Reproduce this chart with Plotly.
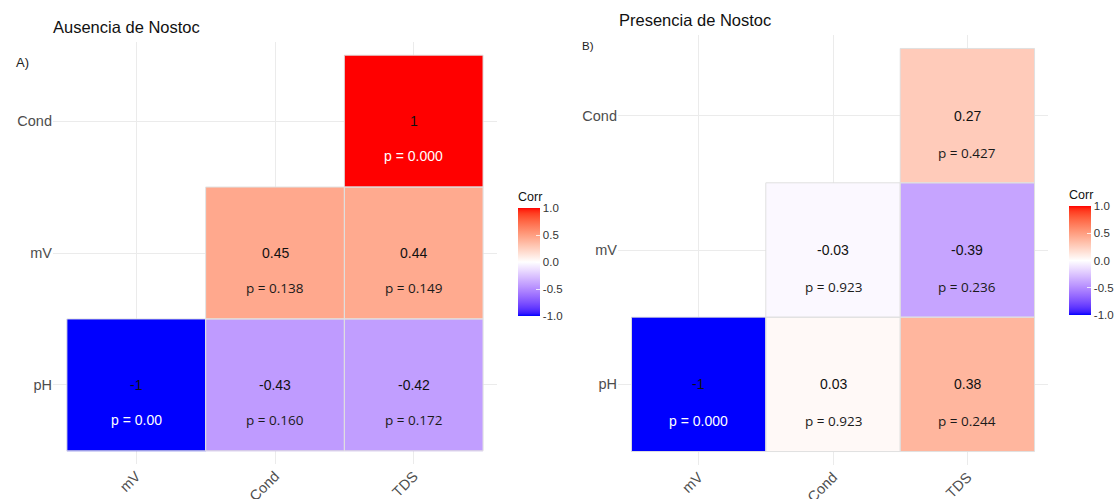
"""Two lower-triangle correlation heatmaps: without / with Nostoc."""
import numpy as np
import plotly.graph_objects as go

# Variables (x columns, y rows from bottom to top).
x_vars = ["mV", "Cond", "TDS"]
y_vars = ["pH", "mV", "Cond"]

# Ausencia de Nostoc: correlation and p-value labels (rows pH, mV, Cond).
corr_aus = [
    [-1.00, -0.43, -0.42],
    [None, 0.45, 0.44],
    [None, None, 1.00],
]
r_text_aus = [
    ["-1", "-0.43", "-0.42"],
    [None, "0.45", "0.44"],
    [None, None, "1"],
]
p_text_aus = [
    ["p = 0.00", "p = 0.160", "p = 0.172"],
    [None, "p = 0.138", "p = 0.149"],
    [None, None, "p = 0.000"],
]

# Presencia de Nostoc.
corr_pre = [
    [-1.00, 0.03, 0.38],
    [None, -0.03, -0.39],
    [None, None, 0.27],
]
r_text_pre = [
    ["-1", "0.03", "0.38"],
    [None, "-0.03", "-0.39"],
    [None, None, "0.27"],
]
p_text_pre = [
    ["p = 0.000", "p = 0.923", "p = 0.244"],
    [None, "p = 0.923", "p = 0.236"],
    [None, None, "p = 0.427"],
]

tick_vals = [-1, -0.5, 0, 0.5, 1]
tick_text = ["-1.0", "-0.5", "0.0", "0.5", "1.0"]

W, H = 1120, 499
SANS = "Liberation Sans, Arial, sans-serif"


# --- blue/white/red diverging scale interpolated in CIELAB (like gradient2) ---
_M = np.array([[0.4124, 0.3576, 0.1805],
               [0.2126, 0.7152, 0.0722],
               [0.0193, 0.1192, 0.9505]])
_WHITE = np.array([0.95047, 1.0, 1.08883])


def _to_lab(rgb):
    c = np.asarray(rgb, float) / 255.0
    lin = np.where(c <= 0.04045, c / 12.92, ((c + 0.055) / 1.055) ** 2.4)
    t = (_M @ lin) / _WHITE
    d = 6 / 29
    f = np.where(t > d ** 3, np.cbrt(t), t / (3 * d * d) + 4 / 29)
    return np.array([116 * f[1] - 16, 500 * (f[0] - f[1]), 200 * (f[1] - f[2])])


def _from_lab(lab):
    L, a, b = lab
    fy = (L + 16) / 116
    f = np.array([fy + a / 500, fy, fy - b / 200])
    d = 6 / 29
    t = np.where(f > d, f ** 3, 3 * d * d * (f - 4 / 29)) * _WHITE
    lin = np.clip(np.linalg.solve(_M, t), 0, 1)
    c = np.where(lin <= 0.0031308, 12.92 * lin, 1.055 * lin ** (1 / 2.4) - 0.055)
    r, g, bb = np.clip(np.round(c * 255), 0, 255).astype(int)
    return f"rgb({r},{g},{bb})"


_lab_lo, _lab_mid, _lab_hi = _to_lab((0, 0, 255)), _to_lab((255, 255, 255)), _to_lab((255, 0, 0))
colorscale = []
for v in np.linspace(-1, 1, 41):
    end = _lab_lo if v < 0 else _lab_hi
    colorscale.append([(v + 1) / 2, _from_lab(_lab_mid + abs(v) * (end - _lab_mid))])


def px(xp):
    return xp / W


def py(yp):
    return 1 - yp / H


# bar top/bottom in pixels; the title sits above the bar inside the colorbar length
panels = [
    dict(corr=corr_aus, rt=r_text_aus, pt=p_text_aus, title="Ausencia de Nostoc", tag="A)",
         xdom=[px(53), px(497)], ydom=[py(464), py(42)], cb_x=px(518), cb_bar=(209, 316),
         title_xy=(53, 27), tag_xy=(16, 62), tag_size=13, pshift=-35),
    dict(corr=corr_pre, rt=r_text_pre, pt=p_text_pre, title="Presencia de Nostoc", tag="B)",
         xdom=[px(618), px(1048)], ydom=[py(465), py(35)], cb_x=px(1069), cb_bar=(207, 315),
         title_xy=(619, 20), tag_xy=(582, 46), tag_size=11.5, pshift=-37),
]
CB_TITLE = 20  # px reserved above the bar for "Corr"

fig = go.Figure()
annotations = []
shapes = []

for k, pnl in enumerate(panels):
    sx = "" if k == 0 else str(k + 1)
    xa, ya = "x" + sx, "y" + sx
    top, bot = pnl["cb_bar"]
    fig.add_heatmap(
        x=x_vars, y=y_vars, z=pnl["corr"], zmin=-1, zmax=1,
        colorscale=colorscale, xaxis=xa, yaxis=ya, hoverongaps=False,
        colorbar=dict(
            x=pnl["cb_x"], xanchor="left", xpad=0, ypad=0,
            y=py(bot), yanchor="bottom",
            len=(bot - top) + CB_TITLE, lenmode="pixels",
            thickness=22, thicknessmode="pixels",
            outlinewidth=0, tickvals=tick_vals, ticktext=tick_text,
            ticks="inside", ticklen=4, tickcolor="rgba(255,255,255,0.8)",
            tickfont=dict(family=SANS, size=11.5, color="#333333"),
            title=dict(text="Corr", side="top",
                       font=dict(family=SANS, size=12.5, color="#111111")),
        ),
    )
    axis_common = dict(
        type="category", range=[-0.6, 2.6], showgrid=True, gridcolor="#EBEBEB",
        gridwidth=1, zeroline=False, showline=False, ticks="", automargin=False,
        tickfont=dict(family=SANS, size=14.5, color="#4D4D4D"),
    )
    fig.update_layout(**{
        "xaxis" + sx: dict(axis_common, domain=pnl["xdom"], anchor=ya,
                           categoryorder="array", categoryarray=x_vars, tickangle=-45),
        "yaxis" + sx: dict(axis_common, domain=pnl["ydom"], anchor=xa,
                           categoryorder="array", categoryarray=y_vars),
    })

    for j, yv in enumerate(y_vars):
        for i, xv in enumerate(x_vars):
            r = pnl["corr"][j][i]
            if r is None:
                continue
            shapes.append(dict(type="rect", xref=xa, yref=ya,
                               x0=i - 0.5, x1=i + 0.5, y0=j - 0.5, y1=j + 0.5,
                               line=dict(color="#E0E0E0", width=1), layer="above"))
            annotations.append(dict(
                x=xv, y=yv, xref=xa, yref=ya, text=pnl["rt"][j][i], showarrow=False,
                font=dict(family=SANS, size=14, color="#111111"),
            ))
            strong = abs(r) >= 0.9
            annotations.append(dict(
                x=xv, y=yv, xref=xa, yref=ya, text=pnl["pt"][j][i], showarrow=False,
                yshift=pnl["pshift"],
                font=dict(family=SANS if strong else "Open Sans",
                          size=14 if strong else 13.5,
                          color="white" if strong else "#1A1A1A"),
            ))

    tx, ty = pnl["title_xy"]
    annotations.append(dict(
        x=px(tx), y=py(ty), xref="paper", yref="paper", xanchor="left", yanchor="middle",
        text=pnl["title"], showarrow=False, xshift=-2,
        font=dict(family=SANS, size=16.5, color="#111111"),
    ))
    gx, gy = pnl["tag_xy"]
    annotations.append(dict(
        x=px(gx), y=py(gy), xref="paper", yref="paper", xanchor="left", yanchor="middle",
        text=pnl["tag"], showarrow=False, xshift=-2,
        font=dict(family=SANS, size=pnl["tag_size"], color="#222222"),
    ))

fig.update_layout(
    width=W, height=H,
    margin=dict(l=0, r=0, t=0, b=0),
    paper_bgcolor="white", plot_bgcolor="white",
    annotations=annotations, shapes=shapes,
    showlegend=False,
)

# drop the browser's default 8px body margin so the figure sits at the page corner
fig.write_html("out.html", config={"displayModeBar": False},
               post_script="document.body.style.margin = '0';")
